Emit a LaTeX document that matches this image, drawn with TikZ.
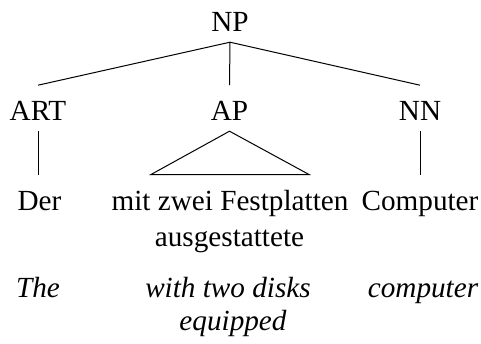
\documentclass[tikz,border=0pt]{standalone}
\usepackage{fontspec}
\setmainfont{Liberation Serif}
\begin{document}
\begin{tikzpicture}[x=.5pt,y=-.5pt,line width=.5pt,
  every node/.style={font=\fontsize{14.6}{17}\selectfont},
  tnode/.style={inner xsep=0pt,inner ysep=5pt,text height=12.5pt,text depth=0pt,anchor=base},
  gloss/.style={inner sep=0pt,anchor=base,font=\fontsize{14.6}{17}\selectfont\itshape}]
\useasboundingbox (0,0) rectangle (481,343);
% categories
\node[tnode] (np) at (230,31.7) {NP};
\node[tnode] (art) at (38,120.7) {ART};
\node[tnode] (ap) at (229.5,120.7) {AP};
\node[tnode] (nn) at (420,120.7) {NN};
% words
\node[tnode] (der) at (39.5,210) {Der};
\node[tnode] (mit) at (230,210) {mit zwei Festplatten};
\node[tnode] (aus) at (229.5,246) {ausgestattete};
\node[tnode] (comp) at (420,210) {Computer};
% glosses
\node[gloss] (the) at (38,297.5) {The};
\node[gloss] (with) at (228,297.5) {with two disks};
\node[gloss] (equ) at (233,330) {equipped};
\node[gloss] (cmp) at (423,297.5) {computer};
% branches
\draw (np.south) -- (art.north);
\draw (np.south) -- (ap.north);
\draw (np.south) -- (nn.north);
\draw (art.south) -- (art.south |- der.north);
\draw (nn.south) -- (nn.south |- comp.north);
% roof over AP
\draw (ap.south) -- ([xshift=-39.5pt]mit.north) -- ([xshift=39.5pt]mit.north) -- cycle;
\end{tikzpicture}
\end{document}
